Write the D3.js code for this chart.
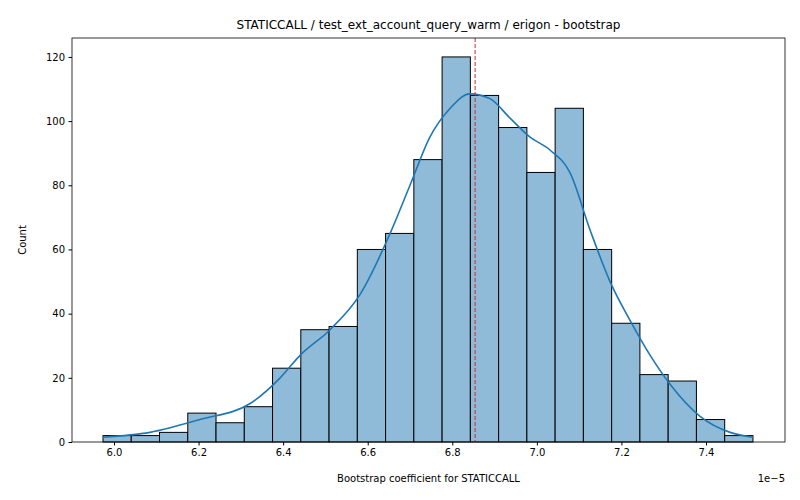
<!DOCTYPE html>
<html><head><meta charset="utf-8">
<script src="https://cdn.jsdelivr.net/npm/d3@7"></script>
<style>body{margin:0;background:#fff}text{font-family:"DejaVu Sans",sans-serif}</style>
</head><body><svg id="c" width="800" height="500"></svg>
<script>
const binStart = 5.974, binEnd = 7.511;
const counts = [2,2,3,9,6,11,23,35,36,60,65,88,120,108,98,84,104,60,37,21,19,7,2];
const kdeX = [5.974,6.085,6.203,6.322,6.393,6.440,6.511,6.582,6.653,6.700,6.747,6.795,6.842,6.889,6.936,6.984,7.031,7.078,7.126,7.173,7.220,7.268,7.315,7.386,7.457,7.511];
const kdeY = [1.5,3,7,12,20,27,35,46,65,80,95,104,108.5,107,101,95,91,84,66,50,38,27,18,8,3,1.5];
const median = 6.854;
const xTicks = [6.0,6.2,6.4,6.6,6.8,7.0,7.2,7.4];
const yTicks = [0,20,40,60,80,100,120];

const svg = d3.select("#c");
const L=72,R=785,T=38,B=442;
const x = d3.scaleLinear().domain([5.9007,7.5868]).range([L,R]);
const y = d3.scaleLinear().domain([0,125.9]).range([B,T]);
const w = (binEnd-binStart)/counts.length;

svg.append("g").selectAll("rect").data(counts).join("rect")
 .attr("x",(d,i)=>x(binStart+i*w)).attr("width",(d,i)=>x(binStart+(i+1)*w)-x(binStart+i*w))
 .attr("y",d=>y(d)).attr("height",d=>B-y(d))
 .attr("fill","#8fbbd9").attr("stroke","#000").attr("stroke-width",1);

svg.append("path").datum(kdeX.map((v,i)=>[v,kdeY[i]]))
 .attr("d",d3.line().x(d=>x(d[0])).y(d=>y(d[1])).curve(d3.curveMonotoneX))
 .attr("fill","none").attr("stroke","#1f77b4").attr("stroke-width",1.6);

svg.append("line").attr("x1",x(median)).attr("x2",x(median)).attr("y1",T).attr("y2",B)
 .attr("stroke","#d62728").attr("stroke-width",1).attr("stroke-dasharray","4,2");

const xa = svg.append("g").attr("transform",`translate(0,${B})`)
 .call(d3.axisBottom(x).tickValues(xTicks).tickFormat(d3.format(".1f")).tickSize(3.5).tickPadding(3.5));
const ya = svg.append("g").attr("transform",`translate(${L},0)`)
 .call(d3.axisLeft(y).tickValues(yTicks).tickSize(3.5).tickPadding(3.5));
[xa,ya].forEach(a=>{a.select(".domain").remove();a.selectAll("text").attr("font-size",10).attr("fill","#000").attr("font-family","DejaVu Sans");a.selectAll("line").attr("stroke","#000");});
svg.append("rect").attr("x",L).attr("y",T).attr("width",R-L).attr("height",B-T).attr("fill","none").attr("stroke","#000").attr("stroke-width",0.8);

svg.append("text").attr("x",785).attr("y",482).attr("text-anchor","end").attr("font-size",10).text("1e\u22125");
svg.append("text").attr("x",(L+R)/2).attr("y",482).attr("text-anchor","middle").attr("font-size",10).text("Bootstrap coefficient for STATICCALL");
svg.append("text").attr("transform",`translate(26,${(T+B)/2}) rotate(-90)`).attr("text-anchor","middle").attr("font-size",10).text("Count");
svg.append("text").attr("x",(L+R)/2).attr("y",29).attr("text-anchor","middle").attr("font-size",12).text("STATICCALL / test_ext_account_query_warm / erigon - bootstrap");
</script></body></html>
